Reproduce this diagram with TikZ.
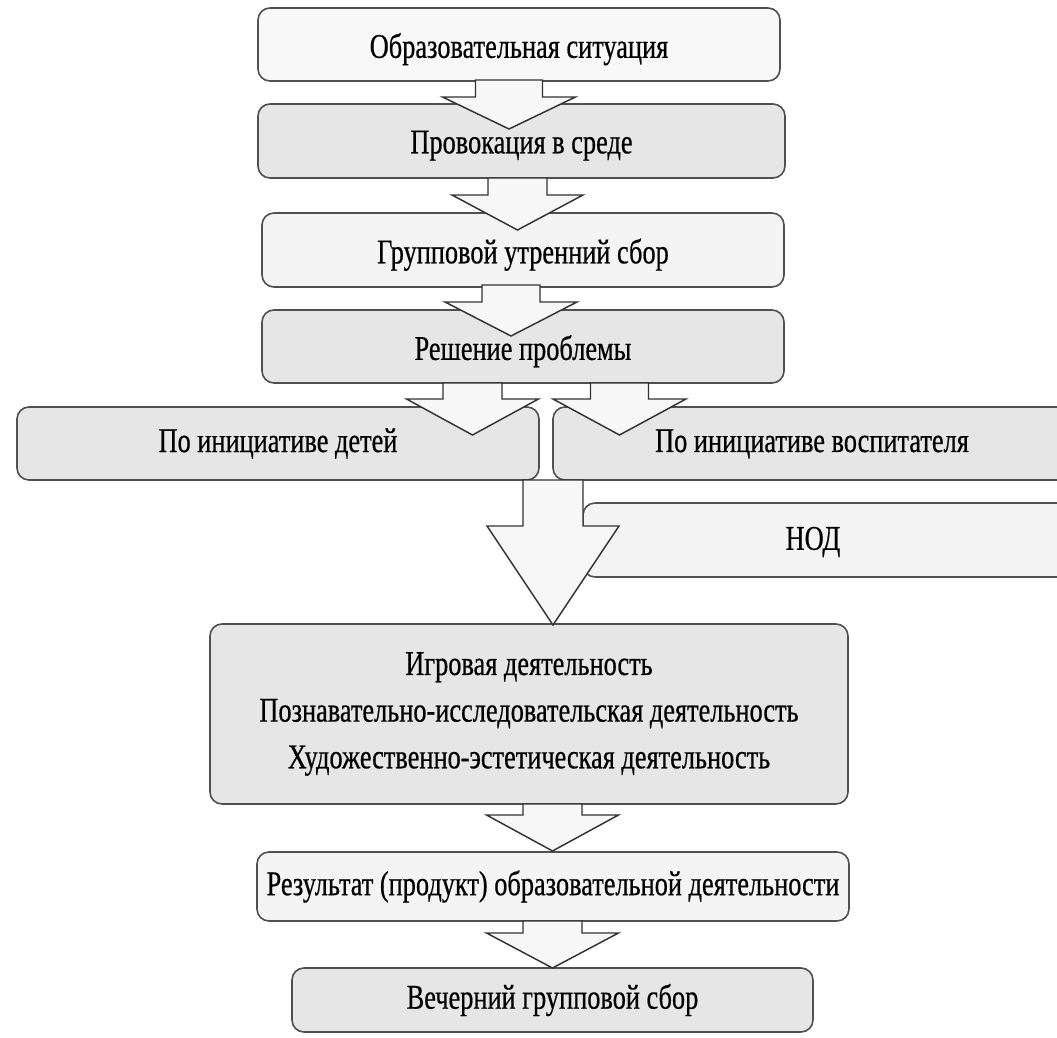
\documentclass[tikz,border=0pt]{standalone}
\usepackage{fontspec}
\setmainfont{Liberation Serif}[FakeStretch=0.76,FakeBold=0.5]
\usetikzlibrary{fit}
\definecolor{fa}{HTML}{F8F8F8}
\definecolor{fb}{HTML}{E6E6E6}
\definecolor{fc}{HTML}{F4F4F4}
\definecolor{edge}{HTML}{505050}
\newcommand\blockarr[6]{%
  \draw[arr] ({#1-#2},#4) -- ({#1+#2},#4) -- ({#1+#2},#5) -- ({#1+#3},#5) -- (#1,#6)
     -- ({#1-#3},#5) -- ({#1-#2},#5) -- cycle;}
\begin{document}
\begin{tikzpicture}[x=0.75pt,y=-0.75pt,
  box/.style={draw=edge, line width=1.2pt, rounded corners=9pt, inner sep=0pt},
  arr/.style={draw=black!80, line width=1.1pt, fill=white!97!black, line join=miter},
  txt/.style={font=\fontsize{26}{35}\selectfont, align=center, inner sep=0pt},
  low/.style={yshift=-3.5pt}]
\useasboundingbox (0,0) rectangle (1057,1038);
\clip (0,0) rectangle (1057,1038);
\fill[white] (0,0) rectangle (1057,1038);
% boxes
\node[box, fill=fa, fit={(258,8) (780,81)}] (b1) {};
\node[txt, low] at (b1.center) {Образовательная ситуация};
\node[box, fill=fb, fit={(258,104) (785,178)}] (b2) {};
\node[txt, low] at (b2.center) {Провокация в среде};
\node[box, fill=fc, fit={(262,213) (784,287)}] (b3) {};
\node[txt, low] at (b3.center) {Групповой утренний сбор};
\node[box, fill=fb, fit={(262,310) (784,383)}] (b4) {};
\node[txt, low] at (b4.center) {Решение проблемы};
\node[box, fill=fb, fit={(17,407) (539,480)}] (bl) {};
\node[txt] at (bl.center) {По инициативе детей};
\node[box, fill=fb, fit={(553,407) (1080,480)}] (br) {};
\node[txt] at (812,444) {По инициативе воспитателя};
\node[box, fill=fc, fit={(583,503) (1080,577)}] (bn) {};
\node[txt] at (813,542) {НОД};
\node[box, fill=fb, fit={(210,624) (848,804)}] (bg) {};
\node[txt] at (bg.center) {Игровая деятельность\\Познавательно-исследовательская деятельность\\Художественно-эстетическая деятельность};
\node[box, fill=fc, fit={(257,852) (849,921)}] (br2) {};
\node[txt] at (br2.center) {Результат (продукт) образовательной деятельности};
\node[box, fill=fb, fit={(292,968) (813,1032)}] (be) {};
\node[txt] at (be.center) {Вечерний групповой сбор};
% arrows
\blockarr{509}{33.5}{66.5}{80}{97}{129}
\blockarr{517.5}{29.5}{65.5}{178}{195}{230}
\blockarr{511}{29}{66}{285}{302}{336}
\blockarr{472.5}{29.5}{66}{383}{399}{435}
\blockarr{619.5}{29}{66.5}{383}{399}{435}
\blockarr{553}{30}{66}{480}{526}{625}
\blockarr{552.5}{29.5}{66}{804}{815}{851}
\blockarr{552.5}{29.5}{66}{921}{933}{968}
\end{tikzpicture}
\end{document}
